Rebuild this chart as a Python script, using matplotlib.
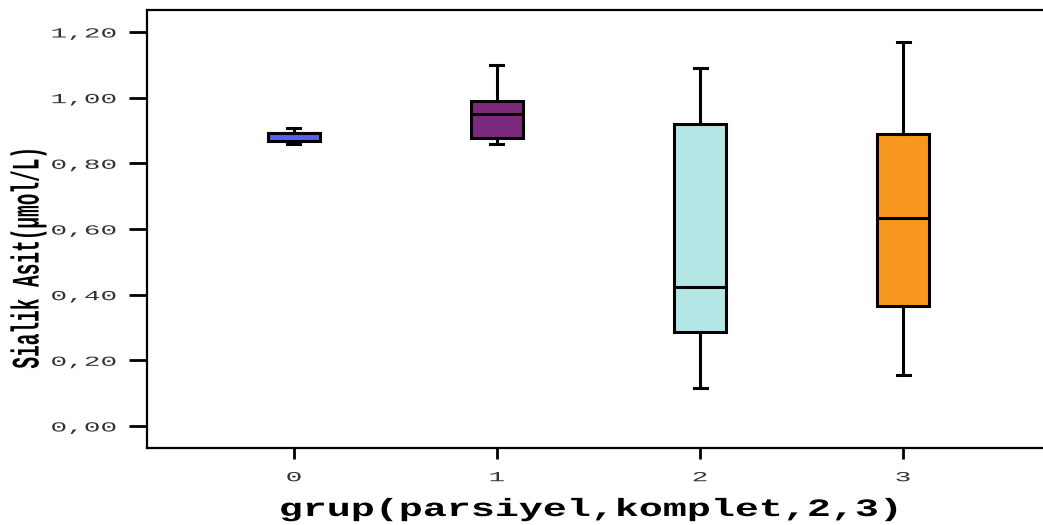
import numpy as np
import matplotlib
matplotlib.use("Agg")
import matplotlib.pyplot as plt
from matplotlib.patheffects import AbstractPathEffect
from matplotlib.transforms import Affine2D
from matplotlib.ticker import FuncFormatter

# box statistics
groups = ["0", "1", "2", "3"]
whislo = [0.860, 0.860, 0.115, 0.155]
q1 = [0.867, 0.878, 0.285, 0.366]
med = [0.891, 0.950, 0.423, 0.633]
q3 = [0.891, 0.990, 0.919, 0.889]
whishi = [0.909, 1.100, 1.090, 1.171]
box_colors = ["#5b5ef0", "#7b2a7b", "#b5e6e6", "#f7971f"]

yticks = [0.0, 0.2, 0.4, 0.6, 0.8, 1.0, 1.2]


class Stretch(AbstractPathEffect):
    """stretch drawn text horizontally (the source image is widened)"""
    def __init__(self, sx, anchor="center"):
        super().__init__()
        self.sx = sx
        self.anchor = anchor

    def draw_path(self, renderer, gc, tpath, affine, rgbFace=None):
        ext = tpath.get_extents(affine)
        cx = ext.x1 if self.anchor == "right" else 0.5 * (ext.x0 + ext.x1)
        tr = affine + Affine2D().translate(-cx, 0).scale(self.sx, 1).translate(cx, 0)
        renderer.draw_path(gc, tpath, tr, rgbFace)


fig = plt.figure(figsize=(10.43, 5.25), dpi=100)
ax = fig.add_axes([147 / 1043, 1 - 448 / 525, 903 / 1043, 438 / 525])

stats = []
for i in range(len(groups)):
    stats.append(dict(label=groups[i], whislo=whislo[i], q1=q1[i], med=med[i],
                      q3=q3[i], whishi=whishi[i], fliers=[]))

pos = np.arange(len(groups))
bp = ax.bxp(stats, positions=pos, widths=0.256, patch_artist=True,
            showfliers=False,
            boxprops=dict(linewidth=2.2, edgecolor="black"),
            medianprops=dict(color="black", linewidth=2.2),
            whiskerprops=dict(color="black", linewidth=2.2),
            capprops=dict(color="black", linewidth=2.2),
            capwidths=0.064)
for patch, c in zip(bp["boxes"], box_colors):
    patch.set_facecolor(c)

ax.set_xlim(-0.724, 3.724)
ax.set_ylim(-0.067, 1.267)
ax.set_yticks(yticks)
ax.yaxis.set_major_formatter(FuncFormatter(lambda v, p: f"{v:.2f}".replace(".", ",")))
ax.set_xticks(pos)
ax.set_xticklabels(groups)

ax.spines["right"].set_visible(False)
for s in ["left", "top", "bottom"]:
    ax.spines[s].set_linewidth(1.6)

ax.tick_params(axis="y", direction="out", length=13, width=2, pad=9,
               labelsize=10)
ax.tick_params(axis="x", direction="out", length=8, width=2, pad=8,
               labelsize=10)
for lab in ax.get_yticklabels():
    lab.set_family("Liberation Mono")
    lab.set_color("#333333")
    lab.set_path_effects([Stretch(2.0, "right")])
for lab in ax.get_xticklabels():
    lab.set_family("Liberation Mono")
    lab.set_color("#333333")
    lab.set_path_effects([Stretch(2.0)])

xl = ax.set_xlabel("grup(parsiyel,komplet,2,3)", family="Liberation Mono",
                   fontweight="bold", fontsize=18, va="baseline")
ax.xaxis.set_label_coords((590 - 147) / 903, (448 - 516) / 438)
xl.set_path_effects([Stretch(1.6)])

yl = ax.set_ylabel("Sialik Asit(µmol/L)", family="Liberation Mono",
                   fontweight="bold", fontsize=14, va="center")
ax.yaxis.set_label_coords((29 - 147) / 903, (448 - 257) / 438)
yl.set_path_effects([Stretch(2.0)])

fig.savefig("out.png", dpi=100)
